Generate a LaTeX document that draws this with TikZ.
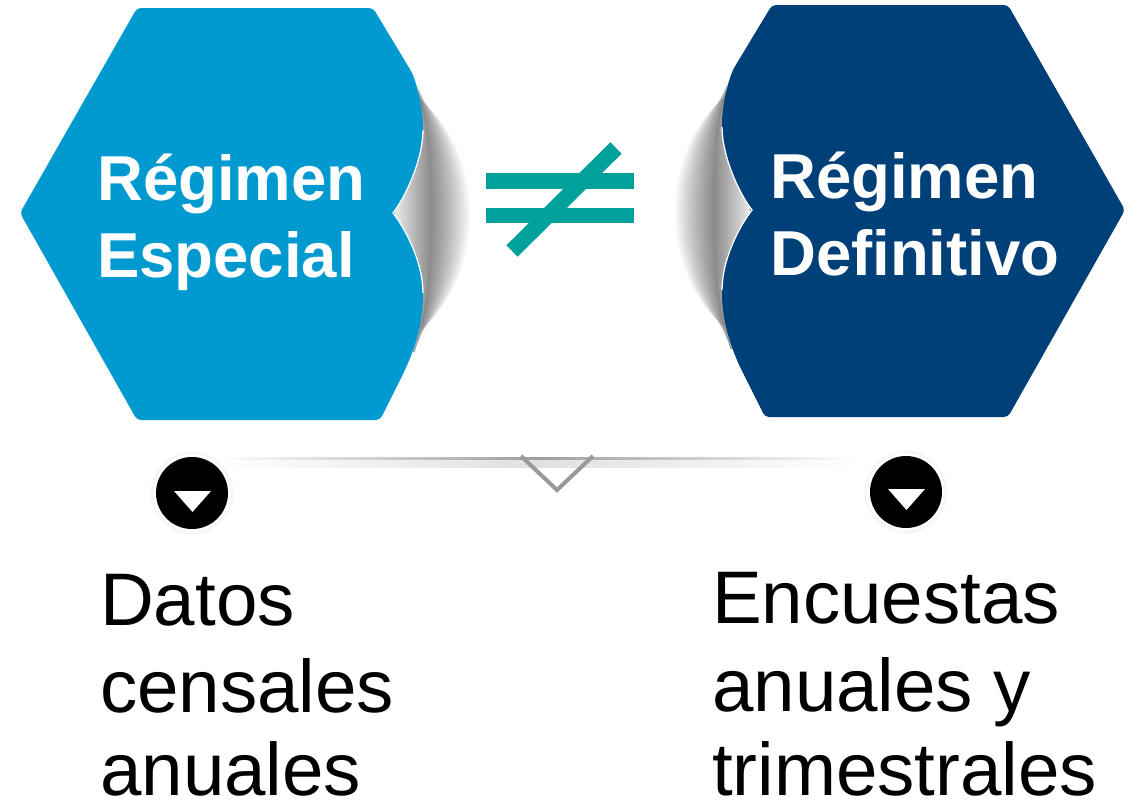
\documentclass[tikz,border=0pt]{standalone}
\usepackage{fontspec}
\setmainfont{Liberation Sans}
\definecolor{lblue}{RGB}{0,154,208}
\definecolor{navy}{RGB}{0,64,120}
\definecolor{tealx}{RGB}{0,161,154}
\tikzset{
  hdr/.style={text=white, font=\bfseries\fontsize{63.5}{74}\selectfont, anchor=base west, inner sep=0pt},
  body/.style={text=black, font=\fontsize{74.5}{88}\selectfont, anchor=base west, inner sep=0pt, text depth=0pt},
  dot/.style={circle, fill=black, minimum size=72pt, inner sep=0pt},
  halo/.style={circle, draw=black!3, line width=3pt, minimum size=80pt, inner sep=0pt},
  hexfill/.style={rounded corners=4pt},
  blur/.style={fill=black, opacity=0.035},
}
\begin{document}
\begin{tikzpicture}[x=1pt,y=-1pt]
\useasboundingbox (0,0) rectangle (1145,809);
\fill[white] (0,0) rectangle (1145,809);

% ---------- left hexagon ----------
\foreach \k in {0,...,15}{
  \fill[blur] (418,84+\k) .. controls (436+\k*3.4,150) and (436+\k*3.4,280) .. (418,346-\k) -- cycle;
}
\shade[left color=black!3, right color=black!52]
  (416,88) .. controls (437,140) and (437,285) .. (414,352) -- (390,352) -- (390,88) -- cycle;
\draw[black!45, line width=0.8pt]
  (416,88) .. controls (437,140) and (437,285) .. (414,352);
\fill[lblue, hexfill] (137,8) -- (373,8) -- (408,66)
  .. controls (417,81) and (423,110) .. (423,130)
  .. controls (423,160) and (405,198) .. (393,213)
  .. controls (405,228) and (423,262) .. (423,293)
  .. controls (423,325) and (414,350) .. (404,372)
  -- (380,420) -- (137,420) -- (20,213) -- cycle;
\draw[white, line width=1.3pt] (423,130)
  .. controls (423,160) and (405,198) .. (393,213)
  .. controls (405,228) and (423,262) .. (423,293);

% ---------- right hexagon ----------
\foreach \k in {0,...,15}{
  \fill[blur] (727,81+\k) .. controls (709-\k*3.4,147) and (709-\k*3.4,277) .. (727,343-\k) -- cycle;
}
\shade[left color=black!52, right color=black!3]
  (729,85) .. controls (708,137) and (708,282) .. (731,349) -- (755,349) -- (755,85) -- cycle;
\draw[black!45, line width=0.8pt]
  (729,85) .. controls (708,137) and (708,282) .. (731,349);
\fill[navy, hexfill] (1008,5) -- (772,5) -- (737,63)
  .. controls (728,78) and (722,107) .. (722,127)
  .. controls (722,157) and (740,195) .. (752,210)
  .. controls (740,225) and (722,259) .. (722,290)
  .. controls (722,322) and (731,347) .. (741,369)
  -- (765,417) -- (1008,417) -- (1125,210) -- cycle;
\draw[white, line width=1.3pt] (722,127)
  .. controls (722,157) and (740,195) .. (752,210)
  .. controls (740,225) and (722,259) .. (722,290);

% ---------- not-equal sign ----------
\fill[tealx] (486,173) rectangle (634,189);
\fill[tealx] (486,208) rectangle (634,223);
\draw[tealx, line width=16pt] (512,251) -- (616,148);

% ---------- header texts ----------
\node[hdr] (h1a) at (97,200) {Régimen};
\node[hdr] (h1b) at (97,277) {Especial};
\node[hdr] (h2a) at (770,198) {Régimen};
\node[hdr] (h2b) at (770,275) {Definitivo};

% ---------- shelf line and chevron ----------
\shade[left color=white, right color=white, middle color=black!38] (215,457) rectangle (860,460);
\shade[left color=white, right color=white, middle color=black!12] (215,460) rectangle (860,467);
\draw[black!40, line width=4pt] (521,456) -- (557,490) -- (593,456);

% ---------- bullets ----------
\node[halo] (r1) at (192,493) {};
\node[dot] (c1) at (192,493) {};
\fill[white] (174,491) -- (211,491) -- (192.5,512) -- cycle;
\node[halo] (r2) at (906,492) {};
\node[dot] (c2) at (906,492) {};
\fill[white] (888,489) -- (925,489) -- (906.5,510) -- cycle;

% ---------- body texts ----------
\node[body] (b1a) at (100,625) {Datos};
\node[body] (b1b) at (100,712) {censales};
\node[body] (b1c) at (100,795) {anuales};
\node[body] (b2a) at (712,623) {Encuestas};
\node[body] (b2b) at (712,711) {anuales y};
\node[body] (b2c) at (712,795) {trimestrales};
\end{tikzpicture}
\end{document}
